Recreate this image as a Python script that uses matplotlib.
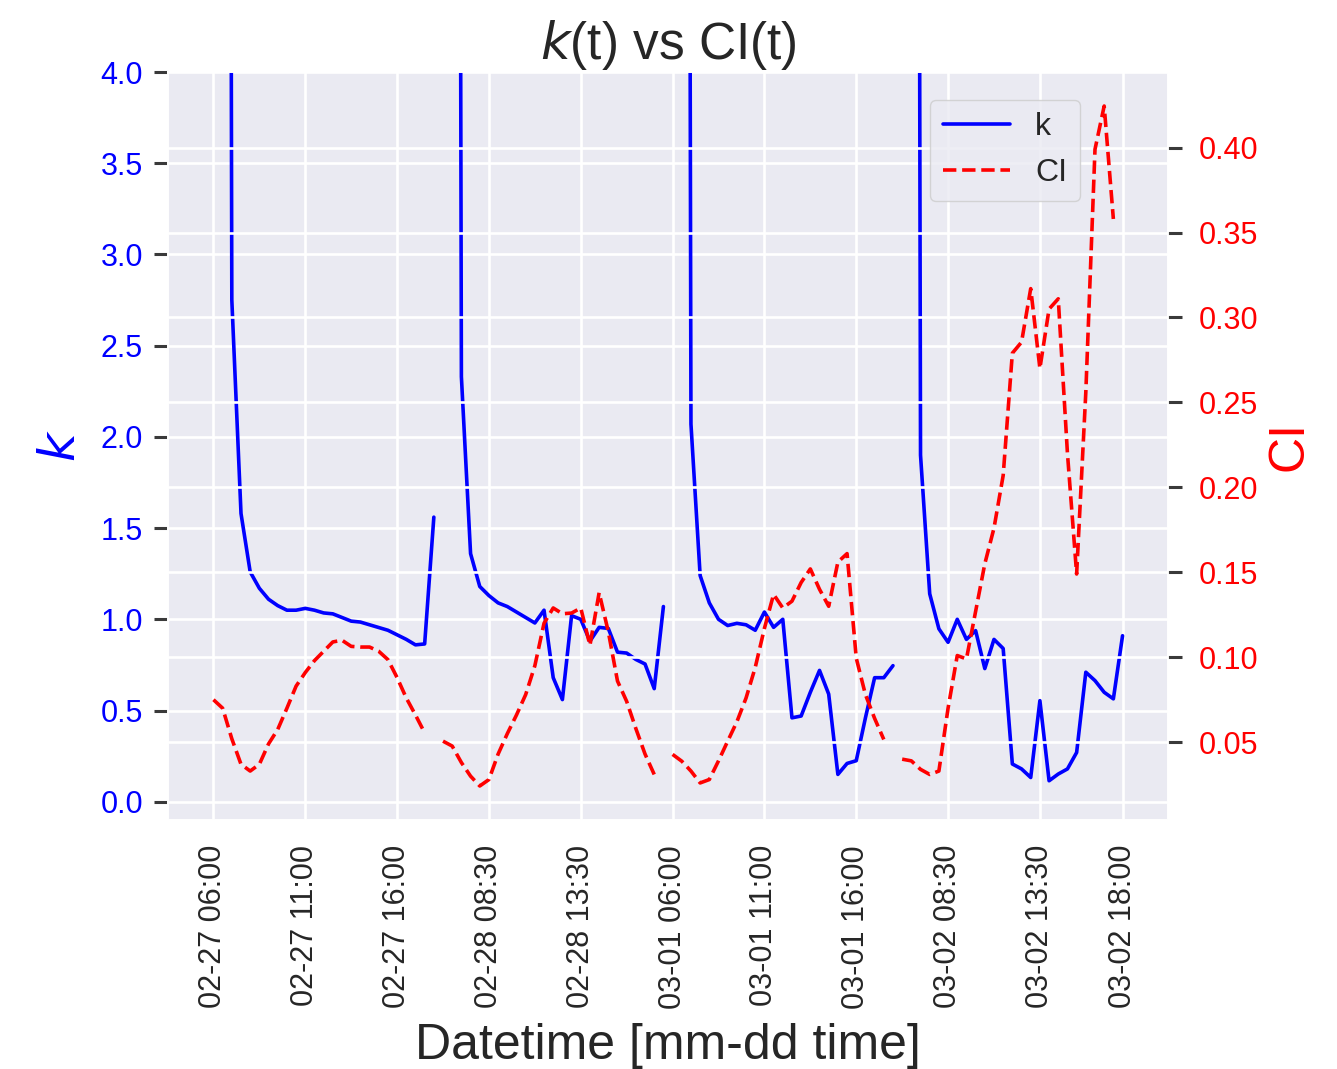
import numpy as np
import matplotlib
matplotlib.use("Agg")
import matplotlib.pyplot as plt
import seaborn as sns

sns.set_theme(style="darkgrid", rc={"grid.linewidth": 1.9})
plt.rcParams['font.family'] = ['Liberation Sans', 'DejaVu Sans']

nan = np.nan
days = ["02-27", "02-28", "03-01", "03-02"]
times = ["06:00", "06:30", "07:00", "07:30", "08:00", "08:30", "09:00", "09:30",
         "10:00", "10:30", "11:00", "11:30", "12:00", "12:30", "13:00", "13:30",
         "14:00", "14:30", "15:00", "15:30", "16:00", "16:30", "17:00", "17:30", "18:00"]
labels = [f"{d} {t}" for d in days for t in times]

k_day1 = [nan, 25, 2.75, 1.58, 1.26, 1.17, 1.11, 1.075, 1.05, 1.05, 1.06, 1.05, 1.035,
          1.03, 1.01, 0.99, 0.985, 0.97, 0.955, 0.94, 0.915, 0.89, 0.86, 0.865, 1.56]
k_day2 = [nan, 25, 2.33, 1.36, 1.18, 1.13, 1.09, 1.07, 1.04, 1.01, 0.98, 1.05, 0.68,
          0.56, 1.02, 1.00, 0.88, 0.956, 0.95, 0.82, 0.815, 0.78, 0.755, 0.62, 1.07]
k_day3 = [nan, 25, 2.07, 1.24, 1.09, 1.00, 0.966, 0.978, 0.97, 0.94, 1.04, 0.956, 1.0,
          0.46, 0.47, 0.60, 0.72, 0.59, 0.15, 0.21, 0.225, 0.46, 0.68, 0.68, 0.746]
k_day4 = [nan, 25, 1.9, 1.14, 0.948, 0.874, 1.0, 0.89, 0.938, 0.73, 0.89, 0.84, 0.207,
          0.18, 0.133, 0.554, 0.115, 0.152, 0.18, 0.27, 0.71, 0.664, 0.60, 0.564, 0.91]

ci_day1 = [0.075, 0.070, 0.052, 0.037, 0.033, 0.037, 0.049, 0.0575, 0.070, 0.083, 0.091,
           0.098, 0.1035, 0.109, 0.110, 0.1064, 0.106, 0.106, 0.1035, 0.0986, 0.088,
           0.076, 0.066, 0.0555, nan]
ci_day2 = [0.0506, 0.0477, 0.038, 0.030, 0.0242, 0.028, 0.043, 0.055, 0.066, 0.078, 0.095,
           0.120, 0.129, 0.1256, 0.126, 0.129, 0.107, 0.138, 0.115, 0.086, 0.074, 0.058,
           0.043, 0.031, nan]
ci_day3 = [0.0428, 0.0388, 0.033, 0.026, 0.028, 0.039, 0.0506, 0.062, 0.076, 0.094, 0.117,
           0.137, 0.129, 0.133, 0.144, 0.152, 0.140, 0.130, 0.156, 0.161, 0.0995, 0.078,
           0.064, 0.0516, nan]
ci_day4 = [0.040, 0.039, 0.034, 0.031, 0.033, 0.070, 0.101, 0.099, 0.127, 0.155, 0.176,
           0.207, 0.279, 0.2855, 0.317, 0.270, 0.305, 0.311, 0.220, 0.149, 0.256, 0.399,
           0.4245, 0.358, nan]

k_vals = np.array(k_day1 + k_day2 + k_day3 + k_day4)
ci_vals = np.array(ci_day1 + ci_day2 + ci_day3 + ci_day4)
x = np.arange(len(labels))
tick_idx = list(range(0, len(labels), 10)) + [len(labels) - 1]

fig = plt.figure(figsize=(13.37, 10.69), dpi=100)
ax1 = fig.add_axes([168 / 1337, 1 - 820 / 1069, 1000 / 1337, 748 / 1069])
l1, = ax1.plot(x, k_vals, color='blue', lw=2.6, label='k')
ax1.set_ylim(-0.1, 4.0)
ax2 = ax1.twinx()
l2, = ax2.plot(x, ci_vals, color='red', ls='--', lw=2.6, label='CI')

ax1.set_xticks(tick_idx)
ax1.set_xticklabels([labels[i] for i in tick_idx], rotation=90, fontsize=22)
ax1.tick_params(axis='x', pad=12)
ax1.tick_params(axis='y', labelcolor='blue', labelsize=22, left=True, length=10,
                width=2.2, color='#3a3a3a', pad=8)
ax2.tick_params(axis='y', labelcolor='red', labelsize=22, right=True, length=10,
                width=2.2, color='#3a3a3a', pad=12)
ax1.set_ylabel('$k$', color='blue', fontsize=36, labelpad=11)
ax2.set_ylabel('CI', color='red', fontsize=36, labelpad=6)
ax1.set_xlabel('Datetime [mm-dd time]', fontsize=36, labelpad=10)
ax1.set_title('$k$(t) vs CI(t)', fontsize=37, pad=8)
ax2.legend([l1, l2], ['k', 'CI'], loc='upper right', bbox_to_anchor=(0.912, 0.963),
           borderaxespad=0, fontsize=23, handlelength=2.1)

fig.savefig('out.png', dpi=100)
